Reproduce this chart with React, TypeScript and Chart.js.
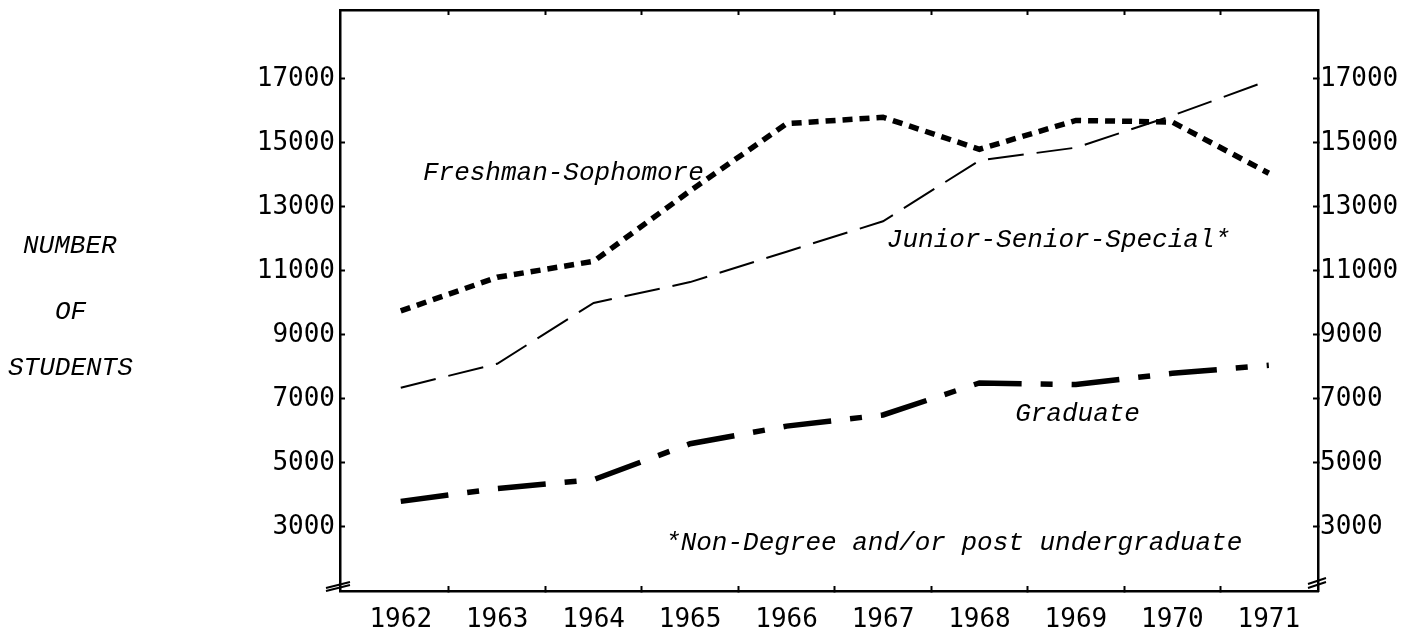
import React, { useEffect, useRef } from 'react';
import { Chart, registerables } from 'chart.js';

Chart.register(...registerables);

// ---- data ----
const years = [1962, 1963, 1964, 1965, 1966, 1967, 1968, 1969, 1970, 1971];
const freshmanSophomore = [9750, 10800, 11300, 13500, 15600, 15800, 14800, 15700, 15650, 14050];
const juniorSeniorSpecial = [7350, 8100, 10000, 10650, 11600, 12550, 14450, 14850, 15850, 16950];
const graduate = [3800, 4200, 4480, 5600, 6150, 6500, 7500, 7450, 7800, 8050];
const yTickValues = [3000, 5000, 7000, 9000, 11000, 13000, 15000, 17000];
const xHalfTicks = [1962.5, 1963.5, 1964.5, 1965.5, 1966.5, 1967.5, 1968.5, 1969.5, 1970.5];
const yTitleLines = ['NUMBER', 'OF', 'STUDENTS'];
const seriesLabels = ['Freshman-Sophomore', 'Junior-Senior-Special*', 'Graduate'];
const annotationTexts = [
  'Freshman-Sophomore',
  'Junior-Senior-Special*',
  'Graduate',
  '*Non-Degree and/or post undergraduate',
];
const annotationX = [1962.23, 1967.04, 1968.37, 1964.74];
const annotationY = [14050, 11950, 6540, 2500];

const TICK_FONT = { family: '"DejaVu Sans Mono", monospace', size: 26 };
const NOTE_FONT = 'italic 26px "Liberation Mono", monospace';

const annotationPlugin = {
  id: 'annotationPlugin',
  afterDatasetsDraw(chart: any) {
    const { ctx, scales } = chart;
    const xs = scales.x;
    const ys = scales.y;
    ctx.save();
    ctx.font = NOTE_FONT;
    ctx.fillStyle = '#000';
    ctx.textBaseline = 'middle';
    ctx.textAlign = 'left';
    annotationTexts.forEach((t, i) => {
      ctx.fillText(t, xs.getPixelForValue(annotationX[i]), ys.getPixelForValue(annotationY[i]));
    });
    ctx.restore();
  },
  afterDraw(chart: any) {
    const { ctx, chartArea } = chart;
    const { left, right, bottom } = chartArea;
    ctx.save();
    ctx.strokeStyle = '#000';
    ctx.lineWidth = 2;
    ctx.beginPath();
    ctx.moveTo(left - 14, bottom - 3);
    ctx.lineTo(left + 10, bottom - 9);
    ctx.moveTo(left - 14, bottom + 0);
    ctx.lineTo(left + 10, bottom - 6);
    ctx.moveTo(right - 10, bottom - 7);
    ctx.lineTo(right + 8, bottom - 13);
    ctx.moveTo(right - 10, bottom - 3);
    ctx.lineTo(right + 8, bottom - 9);
    ctx.stroke();
    ctx.restore();
  },
};

const xMin = 1961.37;
const xMax = 1971.51;

const zeroPad = (s: any) => {
  s.paddingTop = 0;
  s.paddingBottom = 0;
  s.paddingLeft = 0;
  s.paddingRight = 0;
};

export default function App() {
  const canvasRef = useRef<HTMLCanvasElement | null>(null);

  useEffect(() => {
    if (!canvasRef.current) return;
    const toPoints = (vals: number[]) => years.map((yr, i) => ({ x: yr, y: vals[i] }));
    const chart = new Chart(canvasRef.current, {
      type: 'line',
      data: {
        datasets: [
          {
            label: seriesLabels[0],
            data: toPoints(freshmanSophomore),
            borderColor: '#000',
            borderWidth: 5.5,
            borderDash: [10, 7],
            pointRadius: 0,
            tension: 0,
            fill: false,
          },
          {
            label: seriesLabels[1],
            data: toPoints(juniorSeniorSpecial),
            borderColor: '#000',
            borderWidth: 2,
            borderDash: [36, 13],
            pointRadius: 0,
            tension: 0,
            fill: false,
          },
          {
            label: seriesLabels[2],
            data: toPoints(graduate),
            borderColor: '#000',
            borderWidth: 5.5,
            borderDash: [48, 19, 12, 19],
            pointRadius: 0,
            tension: 0,
            fill: false,
          },
        ],
      },
      options: {
        animation: false,
        responsive: false,
        devicePixelRatio: 1,
        layout: { padding: { top: 10, left: 0, right: 0, bottom: 0 } },
        plugins: { legend: { display: false }, tooltip: { enabled: false } },
        scales: {
          x: {
            type: 'linear',
            position: 'bottom',
            min: xMin,
            max: xMax,
            afterBuildTicks: (s: any) => {
              const vals = [...years, ...xHalfTicks].sort((a, b) => a - b);
              s.ticks = vals.map((v) => ({ value: v }));
            },
            afterFit: (s: any) => {
              s.height = 40;
              zeroPad(s);
            },
            grid: {
              drawOnChartArea: false,
              drawTicks: true,
              tickLength: -5,
              tickWidth: 2,
              tickColor: (c: any) => (c.tick && Number.isInteger(c.tick.value) ? 'rgba(0,0,0,0)' : '#000'),
            },
            border: { display: true, color: '#000', width: 2.5 },
            ticks: {
              autoSkip: false,
              maxRotation: 0,
              minRotation: 0,
              padding: 19,
              color: '#000',
              font: TICK_FONT,
              callback: (v: any) => (Number.isInteger(v) ? String(v) : ''),
            },
          },
          xTop: {
            type: 'linear',
            position: 'top',
            min: xMin,
            max: xMax,
            afterBuildTicks: (s: any) => {
              s.ticks = xHalfTicks.map((v) => ({ value: v }));
            },
            afterFit: (s: any) => {
              s.height = 0;
              zeroPad(s);
            },
            grid: { drawOnChartArea: false, drawTicks: true, tickLength: -5, tickWidth: 2, tickColor: '#000' },
            border: { display: true, color: '#000', width: 2.5 },
            ticks: { display: false },
          },
          y: {
            type: 'linear',
            position: 'left',
            min: 1000,
            max: 19150,
            afterBuildTicks: (s: any) => {
              s.ticks = yTickValues.map((v) => ({ value: v }));
            },
            afterFit: (s: any) => {
              s.width = 340;
              zeroPad(s);
            },
            grid: { drawOnChartArea: false, drawTicks: true, tickLength: -5, tickWidth: 2, tickColor: '#000' },
            border: { display: true, color: '#000', width: 2.5 },
            ticks: {
              autoSkip: false,
              padding: 10,
              color: '#000',
              font: TICK_FONT,
              callback: (v: any) => String(v),
            },
          },
          yRight: {
            type: 'linear',
            position: 'right',
            min: 1000,
            max: 19150,
            afterBuildTicks: (s: any) => {
              s.ticks = yTickValues.map((v) => ({ value: v }));
            },
            afterFit: (s: any) => {
              s.width = 100;
              zeroPad(s);
            },
            grid: { drawOnChartArea: false, drawTicks: true, tickLength: -5, tickWidth: 2, tickColor: '#000' },
            border: { display: true, color: '#000', width: 2.5 },
            ticks: {
              autoSkip: false,
              padding: 7,
              color: '#000',
              font: TICK_FONT,
              callback: (v: any) => String(v),
            },
          },
        },
      },
      plugins: [annotationPlugin],
    } as any);
    return () => chart.destroy();
  }, []);

  const titleTops = [231, 297, 353];
  const titleLefts = [23, 55, 8];

  return (
    <div style={{ position: 'absolute', left: 0, top: 0, width: 1418, height: 631, background: '#fff', overflow: 'hidden' }}>
      <canvas ref={canvasRef} width={1418} height={631} style={{ display: 'block', width: 1418, height: 631 }} />
      {yTitleLines.map((t, i) => (
        <div
          key={t}
          style={{
            position: 'absolute',
            left: titleLefts[i],
            top: titleTops[i],
            font: NOTE_FONT,
            lineHeight: '30px',
            color: '#000',
            whiteSpace: 'nowrap',
          }}
        >
          {t}
        </div>
      ))}
    </div>
  );
}
